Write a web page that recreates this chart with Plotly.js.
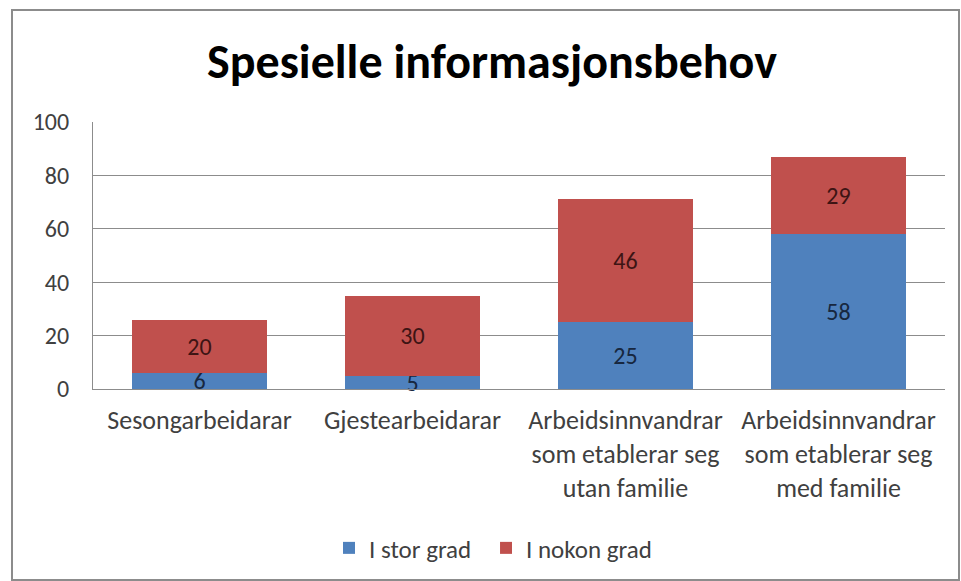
<!DOCTYPE html>
<html>
<head>
<meta charset="utf-8">
<script src="https://cdn.plot.ly/plotly-3.0.1.min.js"></script>
<style>
  html, body { margin: 0; padding: 0; background: #ffffff; }
  #chart { width: 961px; height: 581px; }
  #frame { position: absolute; left: 11px; top: 9px; width: 945px; height: 568px; border: 2px solid #8c8c8c; pointer-events: none; }
</style>
</head>
<body>
<div id="chart"></div>
<div id="frame"></div>
<script>
const categories = [
  "Sesongarbeidarar",
  "Gjestearbeidarar",
  "Arbeidsinnvandrar<br>som etablerar seg<br>utan familie",
  "Arbeidsinnvandrar<br>som etablerar seg<br>med familie"
];
const iStorGrad = [6, 5, 25, 58];
const iNokonGrad = [20, 30, 46, 29];
const seriesNames = ["I stor grad", "I nokon grad"];
const yTicks = [0, 20, 40, 60, 80, 100];

const font = "Carlito, 'Open Sans', sans-serif";

const traces = [
  {
    type: "bar", name: seriesNames[0], x: categories, y: iStorGrad,
    marker: { color: "#4f81bd" }, legend: "legend",
    text: iStorGrad.map(String), textposition: "inside", insidetextanchor: "middle",
    textangle: 0, constraintext: "none", cliponaxis: false,
    textfont: { family: font, size: 24, color: "#17273f" },
    hoverinfo: "none"
  },
  {
    type: "bar", name: seriesNames[1], x: categories, y: iNokonGrad,
    marker: { color: "#c0504d" }, legend: "legend2",
    text: iNokonGrad.map(String), textposition: "inside", insidetextanchor: "middle",
    textangle: 0, constraintext: "none", cliponaxis: false,
    textfont: { family: font, size: 24, color: "#3d1414" },
    hoverinfo: "none"
  }
];

const legendStyle = {
  orientation: "h", xanchor: "left", y: -0.59, yanchor: "middle",
  font: { family: font, size: 25, color: "#404040" },
  itemwidth: 30, bgcolor: "rgba(0,0,0,0)"
};

const layout = {
  width: 961, height: 581,
  paper_bgcolor: "#ffffff", plot_bgcolor: "#ffffff",
  barmode: "stack", bargap: 0.37,
  margin: { l: 93, r: 16, t: 122, b: 191 },
  font: { family: font, color: "#404040" },
  title: {
    text: "Spesielle informasjonsbehov",
    font: { family: font, size: 48, color: "#000000", weight: "bold" },
    x: 0.512, xref: "container", xanchor: "center",
    y: 0.895, yref: "container", yanchor: "middle"
  },
  xaxis: {
    type: "category", tickfont: { family: font, size: 26, color: "#404040" },
    showgrid: false, showline: true, linecolor: "#8c8c8c", linewidth: 1,
    ticks: "", ticklabelstandoff: 8, automargin: false
  },
  yaxis: {
    range: [0, 100], tickvals: yTicks, ticktext: yTicks.map(String),
    tickfont: { family: font, size: 24, color: "#404040" },
    showgrid: true, gridcolor: "#8c8c8c", gridwidth: 1,
    showline: true, linecolor: "#8c8c8c", linewidth: 1,
    zeroline: false, ticks: "", ticklabelstandoff: 18, automargin: false
  },
  legend: Object.assign({}, legendStyle, { x: 0.277 }),
  legend2: Object.assign({}, legendStyle, { x: 0.4613 }),
  showlegend: true
};

Plotly.newPlot("chart", traces, layout, { displayModeBar: false, staticPlot: true });
</script>
</body>
</html>
